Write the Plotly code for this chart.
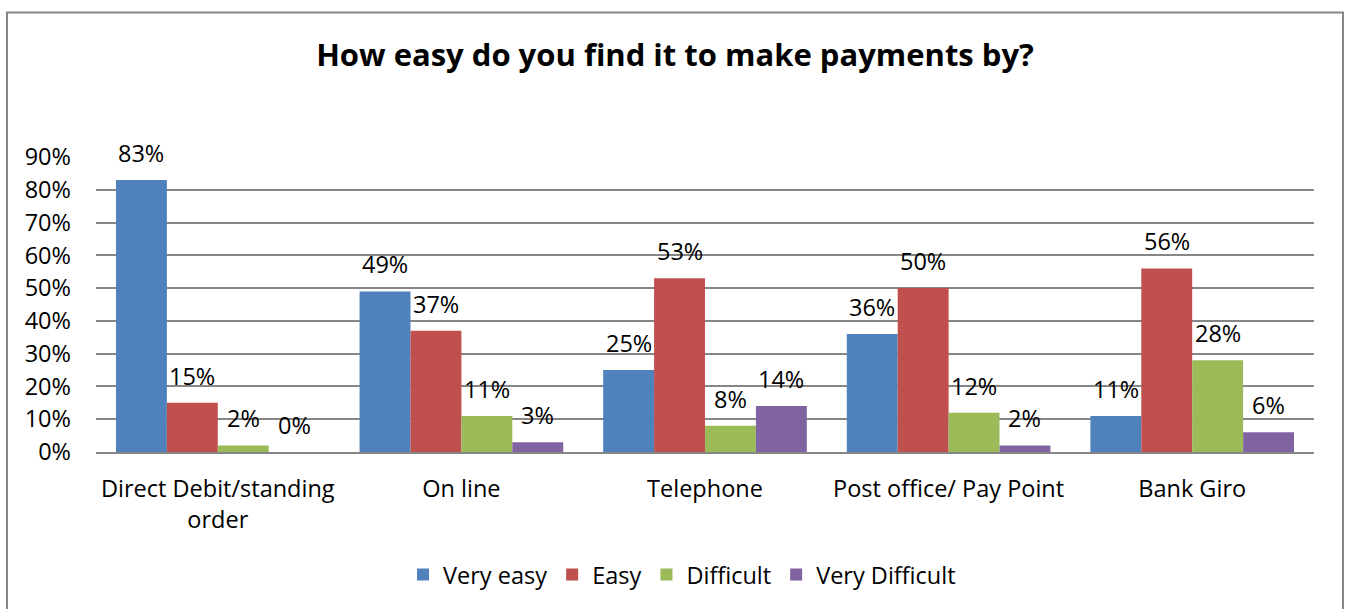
import plotly.graph_objects as go

categories = ["Direct Debit/standing<br>order", "On line", "Telephone", "Post office/ Pay Point", "Bank Giro"]
series_names = ["Very easy", "Easy", "Difficult", "Very Difficult"]
very_easy = [83, 49, 25, 36, 11]
easy = [15, 37, 53, 50, 56]
difficult = [2, 11, 8, 12, 28]
very_difficult = [0, 3, 14, 2, 6]
y_ticks = [0, 10, 20, 30, 40, 50, 60, 70, 80, 90]

colors = ["#4F81BD", "#C0504D", "#9BBB59", "#8064A2"]
series_values = [very_easy, easy, difficult, very_difficult]

FONT = "'Open Sans', Lato, sans-serif"
TXT = 23.5
BARGAP = 0.164

W, H = 1350, 609
L, R, T, B = 96, 36, 157, 154
plot_w = W - L - R
plot_h = H - T - B

fig = go.Figure()
for name, vals, col in zip(series_names, series_values, colors):
    fig.add_trace(go.Bar(
        name=name,
        x=categories,
        y=[v / 100 for v in vals],
        marker=dict(color=col, line=dict(width=0)),
    ))

# value labels placed above each bar, offset within its group
n = len(series_names)
bw = (1 - BARGAP) / n
annotations = []
for j, vals in enumerate(series_values):
    for i, v in enumerate(vals):
        annotations.append(dict(
            x=i + (j - (n - 1) / 2) * bw,
            y=v / 100,
            xref="x", yref="y",
            text=f"{v}%",
            showarrow=False,
            yanchor="middle",
            yshift=27,
            font=dict(family=FONT, size=TXT, color="#000000"),
        ))

# outer chart frame
def px_to_paper_x(px):
    return (px - L) / plot_w

def px_to_paper_y(py):
    return (H - B - py) / plot_h

fig.add_shape(
    type="rect", xref="paper", yref="paper",
    x0=px_to_paper_x(7), x1=px_to_paper_x(1343),
    y0=px_to_paper_y(620), y1=px_to_paper_y(11),
    line=dict(color="#868686", width=2), fillcolor="rgba(0,0,0,0)", layer="below",
)

fig.update_layout(
    width=W, height=H,
    margin=dict(l=L, r=R, t=T, b=B),
    paper_bgcolor="white",
    plot_bgcolor="white",
    barmode="group",
    bargap=BARGAP,
    bargroupgap=0,
    title=dict(
        text="<b>How easy do you find it to make payments by?</b>",
        x=0.5, xref="container", xanchor="center",
        y=1 - 55 / H, yref="container", yanchor="middle",
        font=dict(family=FONT, size=31, color="#000000"),
    ),
    font=dict(family=FONT, size=TXT, color="#000000"),
    legend=dict(
        orientation="h",
        x=px_to_paper_x(682), xanchor="center",
        y=px_to_paper_y(579), yanchor="middle",
        font=dict(family=FONT, size=TXT, color="#000000"),
        itemwidth=30,
        traceorder="normal",
    ),
    annotations=annotations,
    showlegend=True,
)

fig.update_yaxes(
    range=[0, 0.9],
    tickvals=[t / 100 for t in y_ticks],
    ticktext=[f"{t}%" for t in y_ticks],
    showgrid=True, gridcolor="#868686", gridwidth=2,
    zeroline=False,
    showline=False,
    ticks="",
    ticklabelstandoff=24,
    tickfont=dict(family=FONT, size=TXT, color="#000000"),
)
fig.update_xaxes(
    showline=True, linecolor="#868686", linewidth=2,
    showgrid=False,
    ticks="",
    ticklabelstandoff=15,
    tickfont=dict(family=FONT, size=TXT, color="#000000"),
)

fig.write_html("out.html")
